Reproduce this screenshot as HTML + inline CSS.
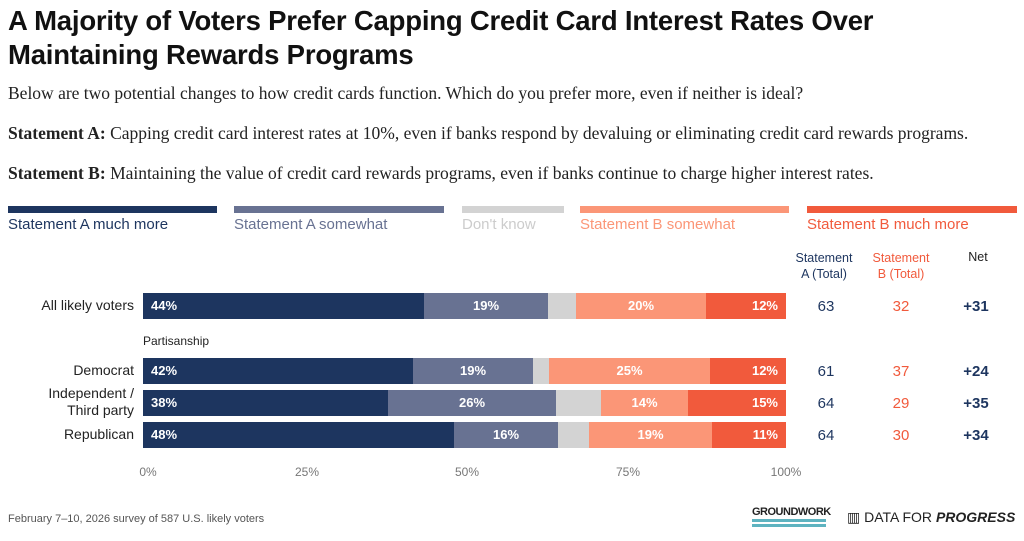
<!DOCTYPE html><html><head><style>
body{margin:0;width:1024px;height:541px;background:#fff;font-family:"Liberation Sans",sans-serif;position:relative;overflow:hidden}
.a{position:absolute;white-space:nowrap}
.t{left:8px;font-size:27.5px;font-weight:bold;color:#111;line-height:34px;top:4px;letter-spacing:-0.2px}
.s{font-family:"Liberation Serif",serif;font-size:17.5px;color:#222;left:8px}
.lb{position:absolute;height:7px;top:206px}
.ll{position:absolute;top:216px;font-size:15px}
.seg{position:absolute;height:26px;color:#fff;font-weight:bold;font-size:13px;line-height:26px;box-sizing:border-box}
.rl{position:absolute;font-size:14px;color:#222;text-align:right;right:890px}
.n{position:absolute;font-size:15px;text-align:center;width:60px}
.tk{position:absolute;top:465px;font-size:12px;color:#777;width:40px;text-align:center}
</style></head><body>
<div class="a t">A Majority of Voters Prefer Capping Credit Card Interest Rates Over<br>Maintaining Rewards Programs</div>
<div class="a s" style="top:83px">Below are two potential changes to how credit cards function. Which do you prefer more, even if neither is ideal?</div>
<div class="a s" style="top:123px"><b>Statement A:</b> Capping credit card interest rates at 10%, even if banks respond by devaluing or eliminating credit card rewards programs.</div>
<div class="a s" style="top:163px"><b>Statement B:</b> Maintaining the value of credit card rewards programs, even if banks continue to charge higher interest rates.</div>
<div class="lb" style="left:8px;width:209px;background:#1d355f"></div>
<div class="lb" style="left:234px;width:210px;background:#687292"></div>
<div class="lb" style="left:462px;width:102px;background:#d3d3d3"></div>
<div class="lb" style="left:580px;width:209px;background:#fb9677"></div>
<div class="lb" style="left:807px;width:210px;background:#f15a3c"></div>
<div class="ll" style="left:8px;color:#1d355f">Statement A much more</div>
<div class="ll" style="left:234px;color:#687292">Statement A somewhat</div>
<div class="ll" style="left:462px;color:#ccc">Don't know</div>
<div class="ll" style="left:580px;color:#fb9677">Statement B somewhat</div>
<div class="ll" style="left:807px;color:#f15a3c">Statement B much more</div>
<div class="n" style="left:794px;top:250px;font-size:12.5px;color:#1d355f;line-height:16px">Statement<br>A (Total)</div>
<div class="n" style="left:871px;top:250px;font-size:12.5px;color:#f15a3c;line-height:16px">Statement<br>B (Total)</div>
<div class="n" style="left:948px;top:250px;font-size:12.5px;color:#222">Net</div>
<div class="a" style="left:143px;top:334px;font-size:12px;color:#222">Partisanship</div>
<div id="rows"></div>
<div class="tk" style="left:128px">0%</div><div class="tk" style="left:287px">25%</div><div class="tk" style="left:447px">50%</div><div class="tk" style="left:608px">75%</div><div class="tk" style="left:766px">100%</div>
<div class="a" style="left:8px;top:513px;font-size:11px;color:#555">February 7–10, 2026 survey of 587 U.S. likely voters</div>
<div class="a" style="left:752px;top:506px;font-size:11px;font-weight:bold;color:#222;letter-spacing:-0.5px">GROUNDWORK</div>
<div class="a" style="left:752px;top:519px;width:74px;height:3px;background:#5eb3c0"></div>
<div class="a" style="left:752px;top:524px;width:74px;height:3px;background:#5eb3c0"></div>
<div class="a" style="left:847px;top:509px;font-size:14px;color:#222">▥ DATA FOR <b><i>PROGRESS</i></b></div>
<script>
var C=['#1d355f','#687292','#d3d3d3','#fb9677','#f15a3c'];
var R=[["All likely voters",293,[143,424,548,576,706,786],["44%","19%","","20%","12%"],[63,32,"+31"]],
["Democrat",358,[143,413,533,549,710,786],["42%","19%","","25%","12%"],[61,37,"+24"]],
["Independent /<br>Third party",390,[143,388,556,601,688,786],["38%","26%","","14%","15%"],[64,29,"+35"]],
["Republican",422,[143,454,558,589,712,786],["48%","16%","","19%","11%"],[64,30,"+34"]]];
var h='';R.forEach(function(r){
var y=r[1];var two=r[0].indexOf('<br>')>0;
h+='<div class="rl" style="top:'+(two?y-5:y+4)+'px;line-height:17px">'+r[0]+'</div>';
for(var i=0;i<5;i++){var x=r[2][i],w=r[2][i+1]-x;var al=i==0?'text-align:left;padding-left:8px':(i==4?'text-align:right;padding-right:8px':'text-align:center');
h+='<div class="seg" style="left:'+x+'px;top:'+y+'px;width:'+w+'px;background:'+C[i]+';'+al+'">'+r[3][i]+'</div>';}
h+='<div class="n" style="left:796px;top:'+(y+5)+'px;color:#1d355f">'+r[4][0]+'</div>';
h+='<div class="n" style="left:871px;top:'+(y+5)+'px;color:#f15a3c">'+r[4][1]+'</div>';
h+='<div class="n" style="left:946px;top:'+(y+5)+'px;color:#1d355f;font-weight:bold">'+r[4][2]+'</div>';
});document.getElementById('rows').innerHTML=h;
</script>
</body></html>
